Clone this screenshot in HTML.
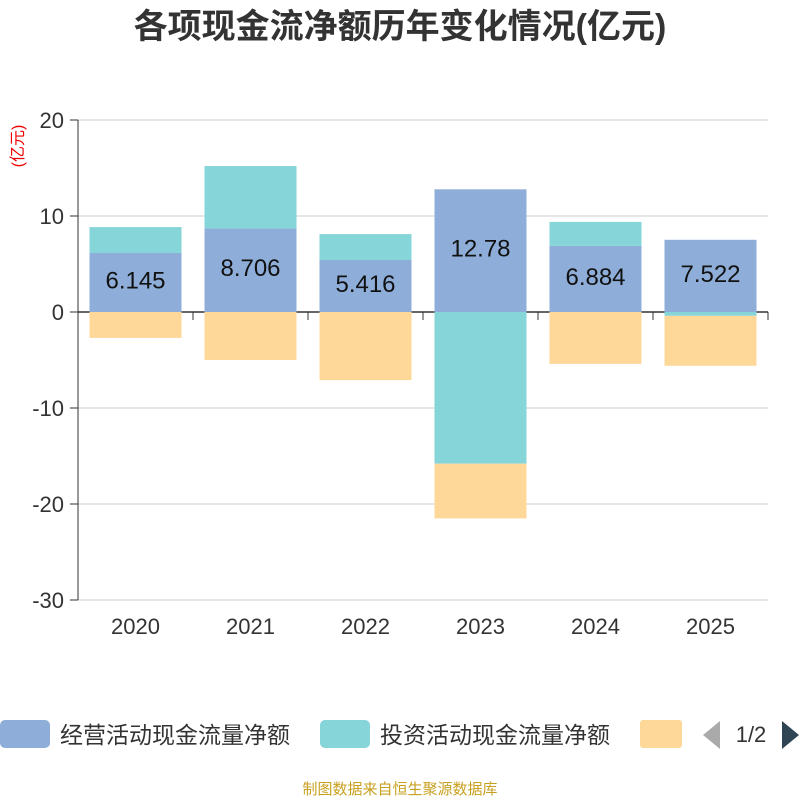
<!DOCTYPE html>
<html><head><meta charset="utf-8"><style>
body{margin:0;background:#fff;}
svg text{font-family:"Liberation Sans","Noto Sans CJK SC",sans-serif;}
</style></head><body>
<svg id="c" width="800" height="800" viewBox="0 0 800 800">
<text x="400" y="38" text-anchor="middle" font-size="34" font-weight="bold" fill="#333">各项现金流净额历年变化情况(亿元)</text>
<text x="23" y="146" font-size="16" fill="#e00" transform="rotate(-90 23 146)" text-anchor="middle">(亿元)</text>
<g id="grid"></g><g id="bars"></g><g id="axes"></g>
<g>
<rect x="0" y="720" width="50" height="28" rx="5" fill="#8eaed9"/>
<text x="60" y="743" font-size="23" fill="#333">经营活动现金流量净额</text>
<rect x="320" y="720" width="50" height="28" rx="5" fill="#86d5d8"/>
<text x="380" y="743" font-size="23" fill="#333">投资活动现金流量净额</text>
<rect x="640" y="720" width="42" height="28" rx="3" fill="#fdd898"/>
<polygon points="720,721 720,749 703,735" fill="#aaa"/>
<text x="751" y="742" font-size="22" fill="#333" text-anchor="middle">1/2</text>
<polygon points="782,721 782,749 799,735" fill="#2f4554"/>
</g>
<text x="400" y="794" text-anchor="middle" font-size="15" fill="#c8a020">制图数据来自恒生聚源数据库</text>
</svg>
<script>
const years=["2020","2021","2022","2023","2024","2025"];
const operating=[6.145,8.706,5.416,12.78,6.884,7.522];
const investing=[2.7,6.5,2.7,-15.8,2.5,-0.4];
const financing=[-2.7,-5.0,-7.1,-5.7,-5.4,-5.2];
const ticks=[20,10,0,-10,-20,-30];
const NS="http://www.w3.org/2000/svg";
const x0=78,x1=768,yMax=20,yMin=-30,py0=120,py1=600;
const y=v=>py0+(yMax-v)/(yMax-yMin)*(py1-py0);
const bw=(x1-x0)/years.length;
const cx=i=>x0+bw*(i+0.5);
function mk(tag,attrs,parent){const e=document.createElementNS(NS,tag);for(const k in attrs)e.setAttribute(k,attrs[k]);document.getElementById(parent).appendChild(e);return e;}
ticks.forEach(t=>{
 const l=mk('line',{x1:x0,x2:x1,y1:y(t),y2:y(t),stroke:t===0?'#333':'#ccc','stroke-width':t===0?1.5:1},'grid');
 
 
 const tk=mk('line',{x1:x0-8,x2:x0,y1:y(t),y2:y(t),stroke:'#333'},'axes');
 
 
 const tx=mk('text',{x:x0-14,y:y(t)+8,'text-anchor':'end','font-size':22,fill:'#333'},'axes');
 tx.textContent=t;
 
 
});
const ya=mk('line',{x1:x0,x2:x0,y1:py0,y2:py1,stroke:'#333'},'axes');


for(let i=0;i<=years.length;i++){
 const tk=mk('line',{x1:x0+bw*i,x2:x0+bw*i,y1:y(0),y2:y(0)+8,stroke:'#333'},'axes');
 
 
}
const w=92;
years.forEach((yr,i)=>{
 let pos=0,neg=0;
 [[operating[i],'#8eaed9','bar-operating'],[investing[i],'#86d5d8','bar-investing'],[financing[i],'#fdd898','bar-financing']].forEach(([v,c,n])=>{
  let top,bot;
  if(v>=0){top=y(pos+v);bot=y(pos);pos+=v;}else{top=y(neg);bot=y(neg+v);neg+=v;}
  const r=mk('rect',{x:cx(i)-w/2,y:top,width:w,height:Math.max(0,bot-top),fill:c},'bars');
  
  
 });
 const lb=mk('text',{x:cx(i),y:y(operating[i]/2)+6,'text-anchor':'middle','font-size':24,fill:'#111'},'bars');
 lb.textContent=operating[i];
 
 
 const xl=mk('text',{x:cx(i),y:634,'text-anchor':'middle','font-size':22,fill:'#333'},'axes');
 xl.textContent=yr;
 
 
});
</script>
</body></html>
